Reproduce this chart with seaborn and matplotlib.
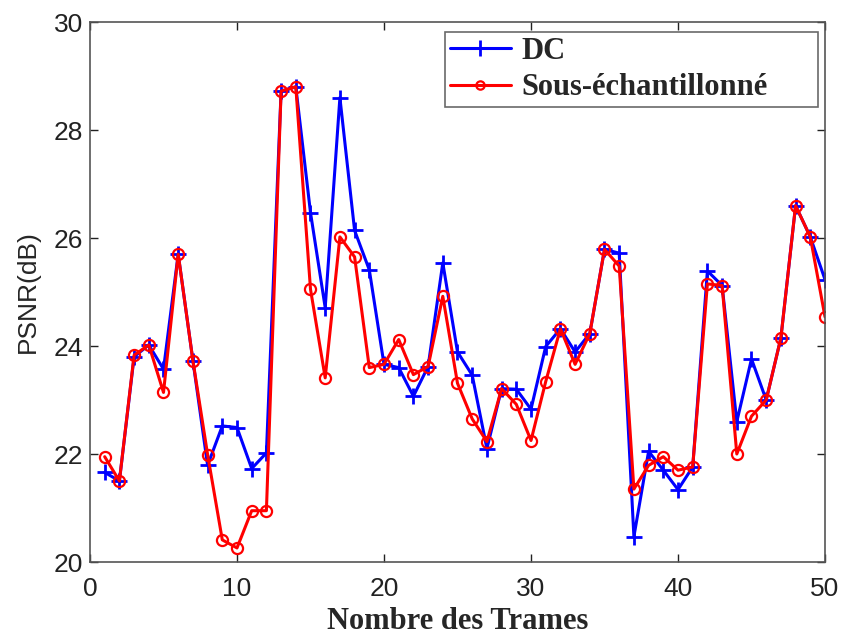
import numpy as np
import pandas as pd
import matplotlib
matplotlib.use("Agg")
import matplotlib.pyplot as plt
import seaborn as sns

frames = list(range(1, 51))
dc = [21.66, 21.50, 23.80, 24.02, 23.57, 25.70, 23.73, 21.79, 22.52, 22.49,
      21.73, 22.02, 28.72, 28.80, 26.47, 24.71, 28.60, 26.14, 25.41, 23.66,
      23.60, 23.07, 23.62, 25.54, 23.89, 23.46, 22.10, 23.21, 23.20, 22.83,
      23.99, 24.32, 23.89, 24.23, 25.79, 25.72, 20.47, 22.05, 21.70, 21.34,
      21.76, 25.39, 25.12, 22.60, 23.76, 23.00, 24.15, 26.60, 26.02, 25.23]
sous = [21.95, 21.50, 23.83, 24.02, 23.14, 25.70, 23.73, 21.99, 20.41, 20.26,
        20.95, 20.95, 28.72, 28.80, 25.05, 23.41, 26.02, 25.65, 23.60, 23.66,
        24.12, 23.47, 23.62, 24.92, 23.31, 22.65, 22.23, 23.21, 22.92, 22.25,
        23.34, 24.32, 23.66, 24.23, 25.79, 25.48, 21.35, 21.79, 21.95, 21.70,
        21.76, 25.15, 25.12, 22.00, 22.70, 23.00, 24.15, 26.60, 26.02, 24.54]
series_names = ["DC", "Sous-échantillonné"]
x_ticks = [0, 10, 20, 30, 40, 50]
y_ticks = [20, 22, 24, 26, 28, 30]

df = pd.DataFrame({
    "Trame": frames * 2,
    "PSNR": dc + sous,
    "Méthode": [series_names[0]] * len(frames) + [series_names[1]] * len(frames),
})

sns.set_style("white")
plt.rcParams["font.family"] = ["Liberation Sans", "DejaVu Sans"]

fig = plt.figure(figsize=(8.45, 6.37), dpi=100)
ax = fig.add_axes([90 / 845, 1 - 562 / 637, (825 - 90) / 845, (562 - 22) / 637])

sns.lineplot(data=df[df["Méthode"] == series_names[0]], x="Trame", y="PSNR",
             color="#0000ff", marker="+", markersize=11, markeredgewidth=2,
             markeredgecolor="#0000ff",
             linewidth=2.2, ax=ax, label=series_names[0])
sns.lineplot(data=df[df["Méthode"] == series_names[1]], x="Trame", y="PSNR",
             color="#ff0000", marker="o", markersize=8, markerfacecolor="none",
             markeredgecolor="#ff0000", markeredgewidth=1.6,
             linewidth=2.2, ax=ax, label=series_names[1])

ax.set_xlim(0, 50)
ax.set_ylim(20, 30)
ax.set_xticks(x_ticks)
ax.set_yticks(y_ticks)
ax.tick_params(direction="in", length=6, width=1, colors="#222222",
               labelsize=19, pad=5, top=True, right=True,
               bottom=True, left=True)
ax.tick_params(axis="x", pad=11)
for s in ax.spines.values():
    s.set_visible(True)
    s.set_color("#555555")
    s.set_linewidth(1.2)

ax.set_xlabel("Nombre des Trames", fontsize=22, fontweight="bold",
              family=["Liberation Serif", "DejaVu Serif"], labelpad=4)
ax.set_ylabel("PSNR(dB)", fontsize=19, labelpad=10)

leg = ax.legend(loc="upper left",
                bbox_to_anchor=(445 / 845, 1 - 108 / 637, 373 / 845, 76 / 637),
                bbox_transform=fig.transFigure, mode="expand", borderaxespad=0,
                frameon=True, fancybox=False,
                edgecolor="#444444", handlelength=2.0, borderpad=0.15,
                labelspacing=0.25, handletextpad=0.35,
                prop={"family": ["Liberation Serif", "DejaVu Serif"],
                      "weight": "bold", "size": 22})
leg.get_frame().set_linewidth(1.2)
for h in leg.legend_handles:
    if h.get_marker() == "o":
        h.set_markersize(6)

fig.savefig("out.png", dpi=100)
